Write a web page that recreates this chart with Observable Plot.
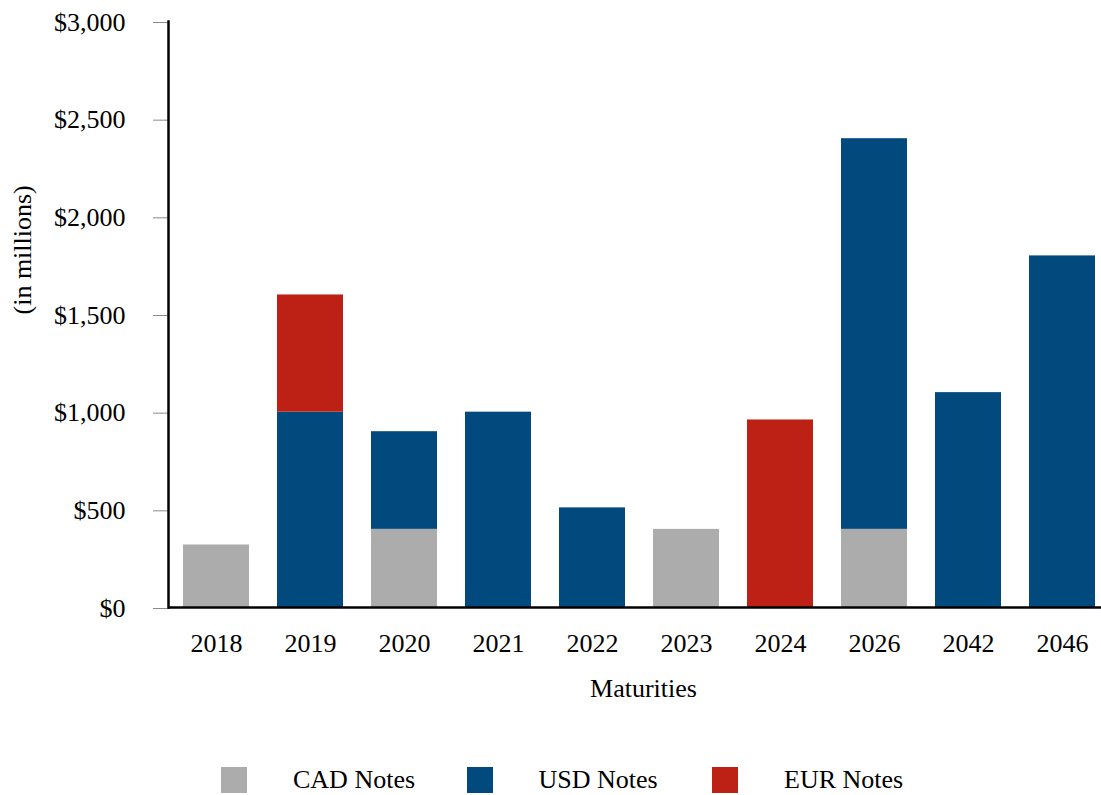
<!DOCTYPE html>
<html>
<head>
<meta charset="utf-8">
<script src="https://cdn.jsdelivr.net/npm/d3@7"></script>
<script src="https://cdn.jsdelivr.net/npm/@observablehq/plot@0.6"></script>
<style>
  body { margin: 0; background: #fff; font-family: "Liberation Serif", "Times New Roman", Times, serif; }
  #legend { position: relative; width: 1101px; height: 55px; }
  .item { position: absolute; top: 27px; height: 26px; }
  .sw { position: absolute; left: 0; top: 0; width: 26px; height: 26px; }
  .lb { position: absolute; left: 72px; top: 0; font-size: 26px; line-height: 26px; white-space: nowrap; color: #000; }
</style>
</head>
<body>
<div id="chart"></div>
<div id="legend"></div>
<script>
const years = ["2018", "2019", "2020", "2021", "2022", "2023", "2024", "2026", "2042", "2046"];
const seriesNames = ["CAD Notes", "USD Notes", "EUR Notes"];
const cadNotes = [320, 0, 400, 0, 0, 400, 0, 400, 0, 0];
const usdNotes = [0, 1000, 500, 1000, 510, 0, 0, 2000, 1100, 1800];
const eurNotes = [0, 600, 0, 0, 0, 0, 960, 0, 0, 0];
const seriesColors = ["#acacac", "#02497e", "#bd2116"];
const yTicks = [0, 500, 1000, 1500, 2000, 2500, 3000];

const rows = [];
[cadNotes, usdNotes, eurNotes].forEach((vals, s) =>
  vals.forEach((v, i) => { if (v > 0) rows.push({year: years[i], series: seriesNames[s], value: v}); })
);

const serif = '"Liberation Serif", "Times New Roman", Times, serif';

const chart = Plot.plot({
  width: 1101,
  height: 740,
  marginLeft: 168,
  marginRight: 0,
  marginTop: 21,
  marginBottom: 133,
  style: {fontFamily: serif, fontSize: "26px", color: "black", background: "white", overflow: "hidden"},
  x: {domain: years, range: [168, 1110], paddingInner: 0.3, paddingOuter: 0.15, label: null},
  y: {domain: [0, 3000], label: null},
  color: {domain: seriesNames, range: seriesColors},
  marks: [
    Plot.barY(rows, {x: "year", y: "value", fill: "series"}),
    Plot.axisY({ticks: yTicks, tickSize: 15, tickPadding: 28, stroke: "#8a8a8a", fill: "black", fontFamily: serif, tickFormat: d => "$" + d3.format(",")(d), label: null, dy: 1}),
    Plot.axisX({tickSize: 0, tickPadding: 26.5, fill: "black", fontFamily: serif, label: null}),
    Plot.ruleY([0], {stroke: "black", strokeWidth: 2.5}),
    Plot.frame({anchor: "left", stroke: "black", strokeWidth: 2.5}),
    Plot.text(["(in millions)"], {text: d => d, frameAnchor: "left", dx: -146, rotate: -90, fill: "black", fontFamily: serif}),
    Plot.text(["Maturities"], {text: d => d, frameAnchor: "bottom", dx: 8.5, dy: 89, lineAnchor: "bottom", fill: "black", fontFamily: serif})
  ]
});
document.getElementById("chart").appendChild(chart);

const legend = d3.select("#legend");
seriesNames.forEach((name, i) => {
  const item = legend.append("div").attr("class", "item").style("left", (221 + i * 245.5) + "px");
  item.append("div").attr("class", "sw").style("background", seriesColors[i]);
  item.append("div").attr("class", "lb").text(name);
});
</script>
</body>
</html>
